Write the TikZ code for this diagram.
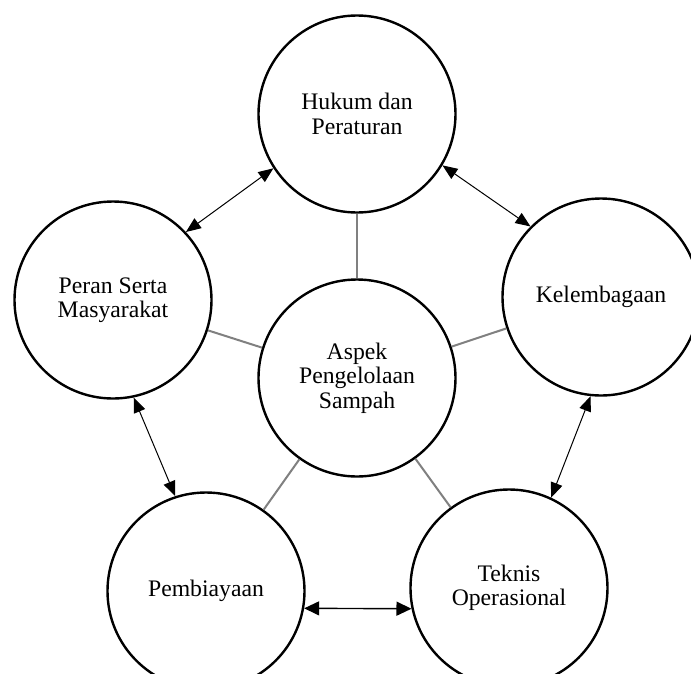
\documentclass[tikz,border=0pt]{standalone}
\usepackage{fontspec}
\setmainfont{Liberation Serif}
\usetikzlibrary{arrows.meta}
\begin{document}
\begin{tikzpicture}[x=1pt,y=-1pt,
  bubble/.style={circle,draw=black,line width=2.4pt,minimum size=197pt,inner sep=0pt,
    align=center,font=\fontsize{23.7}{24.5}\selectfont},
  spoke/.style={draw=black!50,line width=2pt},
  link/.style={draw=black,line width=1pt,{Triangle[length=15pt,width=12pt]}-{Triangle[length=15pt,width=12pt]}},
  hlink/.style={draw=black,line width=1.4pt,{Triangle[length=15pt,width=14pt]}-{Triangle[length=15pt,width=14pt]}}]
\useasboundingbox (0,0) rectangle (691,673);
\fill[white] (0,0) rectangle (691,673);
\node[bubble] (c)  at (357,378) {Aspek\\Pengelolaan\\Sampah};
\node[bubble] (t)  at (357,114) {Hukum dan\\Peraturan};
\node[bubble] (l)  at (113,300) {Peran Serta\\Masyarakat};
\node[bubble] (r)  at (601,297) {Kelembagaan};
\node[bubble] (bl) at (206,591) {Pembiayaan};
\node[bubble] (br) at (509,588) {Teknis\\Operasional};
\draw[spoke] (c) -- (t);
\draw[spoke] (c) -- (l);
\draw[spoke] (c) -- (r);
\draw[spoke] (c) -- (bl);
\draw[spoke] (c) -- (br);
\draw[link] (t.213) -- (l.43);
\draw[link] (t.329) -- (r.135);
\draw[link] (r.264) -- (br.65);
\draw[hlink] (br.192) -- (bl.350);
\draw[link] (l.282) -- (bl.108);
\end{tikzpicture}
\end{document}
